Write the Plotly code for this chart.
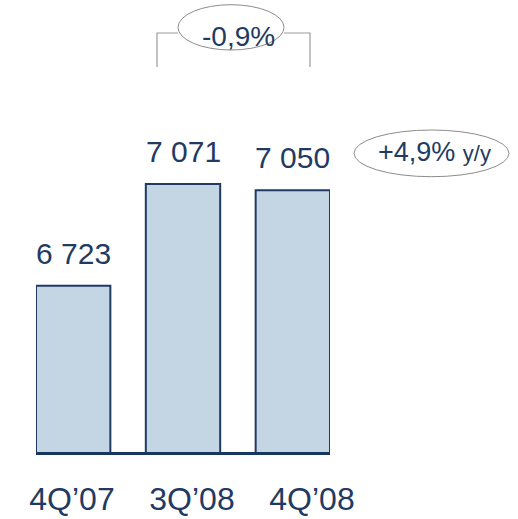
import plotly.graph_objects as go

categories = ["4Q\u201907", "3Q\u201908", "4Q\u201908"]
values = [6723, 7071, 7050]
value_labels = ["6 723", "7 071", "7 050"]
qoq_label = "-0,9%"
yoy_label = "+4,9%"
yoy_suffix = "y/y"

NAVY = "#1F3B64"
FILL = "#C4D5E4"
FONT = "Liberation Sans, Arial, sans-serif"

W, H = 518, 519
L, R, T, B = 36, 188, 0, 67
PW, PH = W - L - R, H - T - B
Y0 = 6154
SCALE = 0.2922
Y1 = Y0 + PH / SCALE
BW = 0.677

def px(x):
    return (x - L) / PW

def py(y):
    return (H - B - y) / PH

xs = list(range(len(categories)))

fig = go.Figure()
fig.add_trace(go.Bar(
    x=xs, y=values, width=BW,
    marker=dict(color=FILL, line=dict(color=NAVY, width=2)),
    hoverinfo="skip", showlegend=False,
))
# empty trace so the label axis (x2) is drawn
fig.add_trace(go.Scatter(x=xs, y=[None] * len(xs), xaxis="x2", yaxis="y",
                         mode="markers", hoverinfo="skip", showlegend=False))

for x, v, t in zip(xs, values, value_labels):
    fig.add_annotation(x=x, y=v, xref="x", yref="y", text=t, showarrow=False,
                       xanchor="center", yanchor="bottom", yshift=14,
                       font=dict(family=FONT, size=30, color=NAVY))

# bracket and ellipses
fig.add_shape(type="path", xref="paper", yref="paper",
              path=f"M {px(157)},{py(67)} L {px(157)},{py(33)} L {px(178)},{py(33)} "
                   f"M {px(284)},{py(33)} L {px(310)},{py(33)} L {px(310)},{py(67)}",
              line=dict(color="#9A9A9A", width=1.2))
fig.add_shape(type="circle", xref="paper", yref="paper",
              x0=px(178), x1=px(284), y0=py(50), y1=py(4.7),
              line=dict(color="#8C8C8C", width=1), fillcolor="white")
fig.add_annotation(x=px(238), y=py(37), xref="paper", yref="paper", text=qoq_label,
                   showarrow=False, xanchor="center", yanchor="middle",
                   font=dict(family=FONT, size=28, color=NAVY))
fig.add_shape(type="circle", xref="paper", yref="paper",
              x0=px(354), x1=px(509), y0=py(176.7), y1=py(130),
              line=dict(color="#8C8C8C", width=1), fillcolor="white")
fig.add_annotation(x=px(434), y=py(152), xref="paper", yref="paper",
                   text=f"{yoy_label} <span style='font-size:22px'>{yoy_suffix}</span>",
                   showarrow=False, xanchor="center", yanchor="middle",
                   font=dict(family=FONT, size=27, color=NAVY))

fig.update_layout(
    width=W, height=H,
    margin=dict(l=L, r=R, t=T, b=B),
    paper_bgcolor="white", plot_bgcolor="white",
    xaxis=dict(range=[-BW / 2, 2 + BW / 2], showgrid=False, zeroline=False,
               showticklabels=False, ticks="", showline=True, linecolor="#17375E",
               linewidth=3, fixedrange=True),
    xaxis2=dict(overlaying="x", anchor="y", side="bottom",
                range=[-0.3, -0.3 + PW / 120], tickmode="array",
                tickvals=xs, ticktext=categories, showgrid=False, zeroline=False,
                showline=False, ticks="outside", ticklen=19, tickcolor="rgba(0,0,0,0)",
                tickfont=dict(family=FONT, size=32, color=NAVY), fixedrange=True),
    yaxis=dict(range=[Y0, Y1], visible=False, fixedrange=True),
    bargap=0.3,
)

fig.write_html("out.html", config={"displayModeBar": False},
               post_script="document.body.style.margin='0';")
